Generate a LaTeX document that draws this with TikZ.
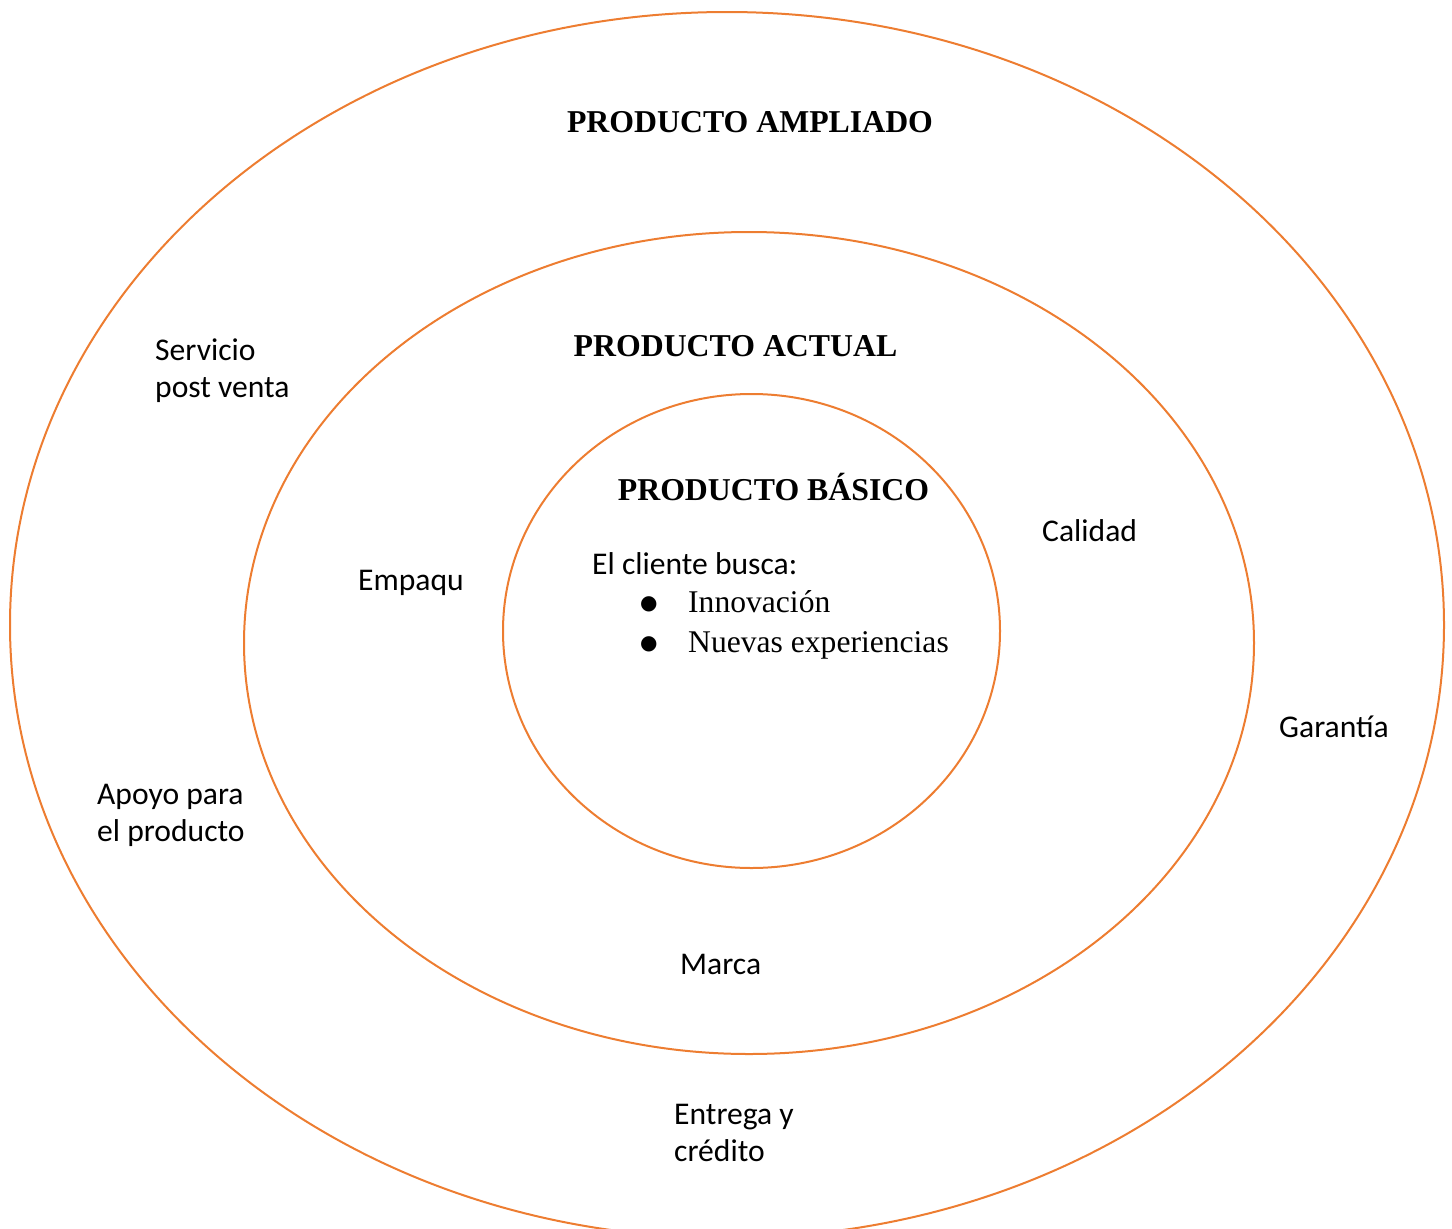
\documentclass[tikz,border=0pt]{standalone}
\usepackage{fontspec}
\setmainfont{Liberation Serif}
\newfontfamily\labelfont{Carlito}
\newfontfamily\symfont{DejaVu Sans}
\definecolor{ringorange}{HTML}{ED7D31}
% list bullet followed by a fixed indent
\newcommand{\listdot}{\hspace*{3pt}\makebox[48pt][l]{\raisebox{3pt}{\symfont\fontsize{20}{20}\selectfont ●}}}
\begin{document}
\begin{tikzpicture}[x=1pt,y=-1pt,
  ring/.style={draw=ringorange,line width=2pt},
  title/.style={font=\fontsize{31.8}{38}\selectfont\bfseries,inner sep=0pt,anchor=base},
  lbl/.style={font=\labelfont\fontsize{31.6}{37}\selectfont,inner sep=0pt,anchor=base west,align=left},
  itemlist/.style={font=\fontsize{31.6}{40}\selectfont,inner sep=0pt,anchor=base west,align=left}]
\useasboundingbox (0,0) rectangle (1452,1229);
% three nested rings
\draw[ring] (727,625) ellipse [x radius=717, y radius=613];
\draw[ring] (749,643) ellipse [x radius=505, y radius=411];
\draw[ring] (751.5,631) ellipse [x radius=248.5, y radius=237];
% ring titles
\node[title] (ampliado) at (750,132) {PRODUCTO AMPLIADO};
\node[title] (actual) at (735.5,356) {PRODUCTO ACTUAL};
\node[title] (basico) at (773.5,500) {PRODUCTO BÁSICO};
% core benefit
\node[lbl] (busca) at (592,574) {El cliente busca:};
\node[itemlist] (lista) at (637,652) {\listdot Innovación\\\listdot Nuevas experiencias};
% actual product attributes
\node[lbl] (empaque) at (358,590) {Empaqu};
\node[lbl] (calidad) at (1042,541) {Calidad};
\node[lbl] (marca) at (680,974) {Marca};
% augmented product services (base anchor sits on the last line)
\node[lbl] (servicio) at (155,397) {Servicio\\post venta};
\node[lbl] (apoyo) at (97,841) {Apoyo para\\el producto};
\node[lbl] (garantia) at (1279,737) {Garantía};
\node[lbl] (entrega) at (674,1161) {Entrega y\\crédito};
\end{tikzpicture}
\end{document}
